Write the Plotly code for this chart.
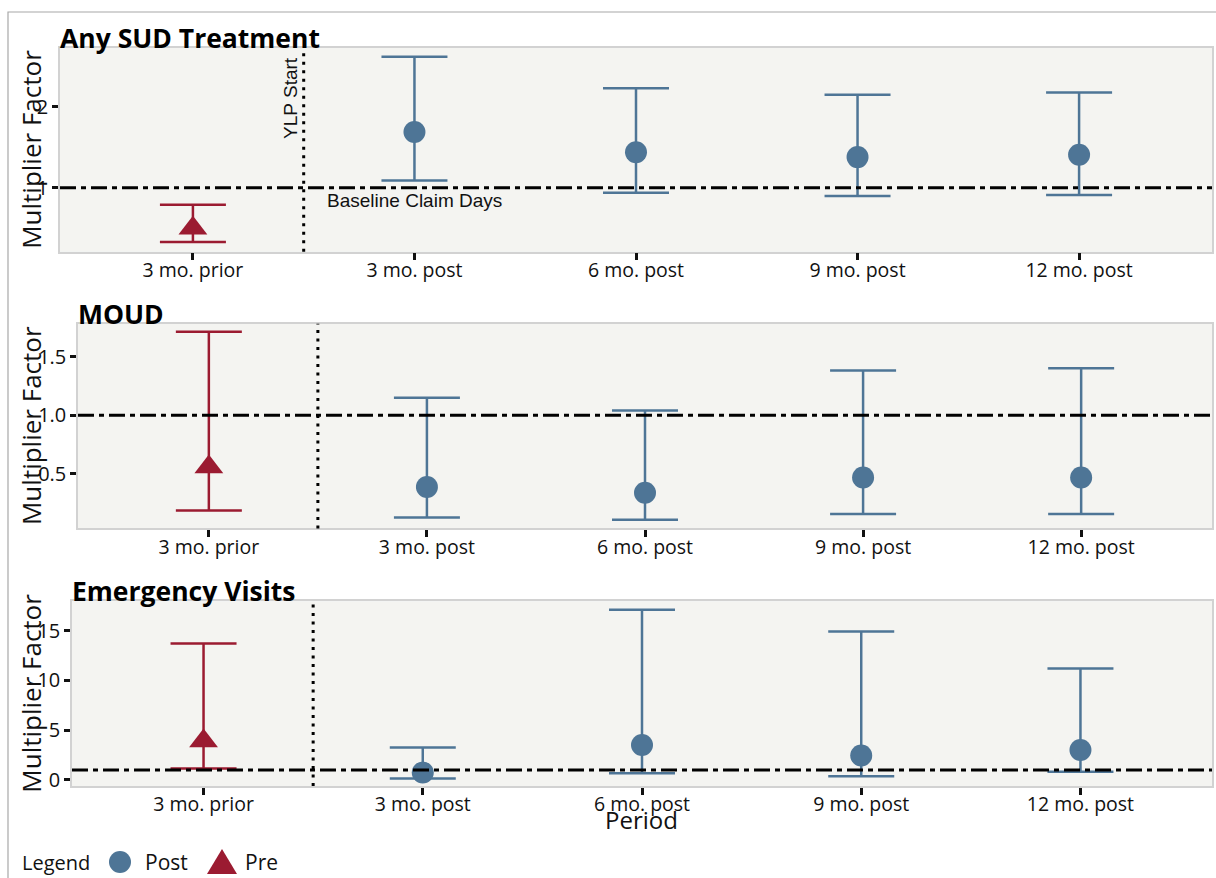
import plotly.graph_objects as go

# ---- data -------------------------------------------------------------
periods = ["3 mo. prior", "3 mo. post", "6 mo. post", "9 mo. post", "12 mo. post"]
phase = ["Pre", "Post", "Post", "Post", "Post"]

sud_est = [0.50, 1.69, 1.44, 1.38, 1.41]
sud_low = [0.33, 1.09, 0.94, 0.90, 0.91]
sud_high = [0.79, 2.62, 2.23, 2.15, 2.18]

moud_est = [0.56, 0.39, 0.34, 0.47, 0.47]
moud_low = [0.19, 0.13, 0.11, 0.16, 0.16]
moud_high = [1.71, 1.15, 1.04, 1.38, 1.40]

ed_est = [3.9, 0.74, 3.5, 2.44, 3.0]
ed_low = [1.14, 0.14, 0.67, 0.37, 0.80]
ed_high = [13.7, 3.25, 17.1, 14.9, 11.2]

panel_titles = ["Any SUD Treatment", "MOUD", "Emergency Visits"]
y_ticks = [[1, 2], [0.5, 1.0, 1.5], [0, 5, 10, 15]]
y_ticktext = [["1", "2"], ["0.5", "1.0", "1.5"], ["0", "5", "10", "15"]]
baseline = 1.0
intervention_at = 0.5  # between "3 mo. prior" and "3 mo. post"

# ---- styling ----------------------------------------------------------
W, H = 1216, 878
H_PX = 872  # vertical pixel span used when converting pixel positions to paper
BLUE = "#4E7596"
RED = "#9B1B31"
PANEL_BG = "#F4F4F1"
TEXT = "#111111"
SANS = "Open Sans, Noto Sans, sans-serif"
ARIAL = "Liberation Sans, Arial, sans-serif"


def px_x(x):
    return x / W


def px_y(y):
    return 1 - y / H_PX


# pixel boxes of the three panels: (left, top, right, bottom)
boxes = [(60, 48, 1212, 252), (78, 324, 1212, 529), (72, 602, 1212, 787)]
y_ranges = [[0.21, 2.73], [0.037, 1.78], [-0.63, 17.94]]
series = [(sud_est, sud_low, sud_high), (moud_est, moud_low, moud_high),
          (ed_est, ed_low, ed_high)]

fig = go.Figure()
layout = dict(
    width=W, height=H, margin=dict(l=0, r=0, t=0, b=0),
    paper_bgcolor="white", showlegend=False,
    font=dict(family=SANS, color=TEXT, size=19),
)
shapes, annotations = [], []

for i, (box, yr, (est, low, high)) in enumerate(zip(boxes, y_ranges, series)):
    n = "" if i == 0 else str(i + 1)
    xa, ya = "x" + n, "y" + n
    l, t, r, b = box
    layout["xaxis" + n] = dict(
        domain=[px_x(l), px_x(r)], anchor=ya, type="category",
        categoryorder="array", categoryarray=periods, range=[-0.6, 4.6],
        showgrid=False, zeroline=False, showline=True, mirror=True,
        linecolor="#D2D2D2", linewidth=1.5, ticks="outside", ticklen=7,
        tickwidth=2.5, tickcolor="#111111", ticklabelstandoff=-7,
        tickfont=dict(family=SANS, size=19.5, color=TEXT),
    )
    layout["yaxis" + n] = dict(
        domain=[px_y(b), px_y(t)], anchor=xa, range=yr,
        tickvals=y_ticks[i], ticktext=y_ticktext[i],
        showgrid=False, zeroline=False, showline=True, mirror=True,
        linecolor="#D2D2D2", linewidth=1.5, ticks="outside", ticklen=6,
        tickwidth=2.5, tickcolor="#111111",
        tickfont=dict(family=SANS, size=20, color=TEXT),
    )
    # panel background
    shapes.append(dict(type="rect", xref=xa + " domain", yref=ya + " domain",
                       x0=0, x1=1, y0=0, y1=1, fillcolor=PANEL_BG,
                       line=dict(width=0), layer="below"))
    # baseline (multiplier = 1)
    shapes.append(dict(type="line", xref=xa + " domain", yref=ya,
                       x0=0, x1=1, y0=baseline, y1=baseline,
                       line=dict(color="black", width=3,
                                 dash="16px,5px,5px,5px")))
    # intervention start
    shapes.append(dict(type="line", xref=xa, yref=ya + " domain",
                       x0=intervention_at, x1=intervention_at, y0=0, y1=1,
                       line=dict(color="black", width=3, dash="3px,5.5px")))

    for ph, color, symbol, size in [("Pre", RED, "triangle-up", 25),
                                     ("Post", BLUE, "circle", 22)]:
        idx = [k for k, p in enumerate(phase) if p == ph]
        fig.add_trace(go.Scatter(
            x=[periods[k] for k in idx], y=[est[k] for k in idx],
            mode="markers", name=ph, xaxis=xa, yaxis=ya,
            marker=dict(symbol=symbol, size=size, color=color,
                        line=dict(width=0)),
            error_y=dict(type="data", symmetric=False,
                         array=[high[k] - est[k] for k in idx],
                         arrayminus=[est[k] - low[k] for k in idx],
                         color=color, thickness=2.5, width=33),
        ))

    # panel title
    annotations.append(dict(
        text="<b>%s</b>" % panel_titles[i], xref="paper", yref="paper",
        x=px_x(l - 2), y=px_y(t - 10), xanchor="left", yanchor="middle",
        showarrow=False, font=dict(family=SANS, size=26.5, color="black")))
    # y-axis title
    annotations.append(dict(
        text="Multiplier Factor", xref="paper", yref="paper",
        x=px_x(31), y=px_y((t + b) / 2), xanchor="center", yanchor="middle",
        textangle=-90, showarrow=False,
        font=dict(family=SANS, size=26, color=TEXT)))

# reference line labels in the top panel
annotations.append(dict(
    text="YLP Start", xref="paper", yref="paper", x=px_x(291), y=px_y(98),
    xanchor="center", yanchor="middle", textangle=-90, showarrow=False,
    font=dict(family=ARIAL, size=19, color=TEXT)))
annotations.append(dict(
    text="Baseline Claim Days", xref="paper", yref="paper", x=px_x(325),
    y=px_y(201), xanchor="left", yanchor="middle", showarrow=False,
    font=dict(family=ARIAL, size=19, color=TEXT)))

# x-axis title
annotations.append(dict(
    text="Period", xref="paper", yref="paper", x=px_x(641), y=px_y(820),
    xanchor="center", yanchor="middle", showarrow=False,
    font=dict(family=SANS, size=24, color=TEXT)))

# legend
annotations.append(dict(text="Legend", xref="paper", yref="paper",
                        x=px_x(20), y=px_y(863), xanchor="left",
                        yanchor="middle", showarrow=False,
                        font=dict(family=SANS, size=20, color=TEXT)))
annotations.append(dict(text="Post", xref="paper", yref="paper",
                        x=px_x(143), y=px_y(863), xanchor="left",
                        yanchor="middle", showarrow=False,
                        font=dict(family=SANS, size=21, color=TEXT)))
annotations.append(dict(text="Pre", xref="paper", yref="paper",
                        x=px_x(243), y=px_y(863), xanchor="left",
                        yanchor="middle", showarrow=False,
                        font=dict(family=SANS, size=21, color=TEXT)))
shapes.append(dict(type="circle", xref="paper", yref="paper",
                   x0=px_x(109), x1=px_x(131), y0=px_y(874), y1=px_y(852),
                   fillcolor=BLUE, line=dict(width=0)))
shapes.append(dict(type="path", xref="paper", yref="paper",
                   path="M %.5f,%.5f L %.5f,%.5f L %.5f,%.5f Z" % (
                       px_x(207), px_y(875), px_x(237), px_y(875),
                       px_x(222), px_y(850)),
                   fillcolor=RED, line=dict(width=0)))

# outer frame
shapes.append(dict(type="rect", xref="paper", yref="paper",
                   x0=px_x(8), x1=1.2, y0=-0.2, y1=px_y(12),
                   line=dict(color="#A8A8A8", width=1.2), layer="below"))

layout["shapes"] = shapes
layout["annotations"] = annotations
fig.update_layout(**layout)
fig.write_html("out.html")
